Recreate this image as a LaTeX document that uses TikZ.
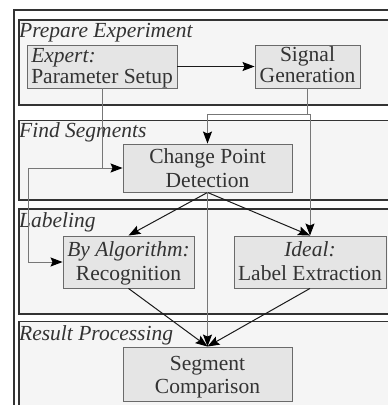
\documentclass[tikz,border=0pt]{standalone}
\usepackage{fontspec}
\setmainfont{LiberationSerif}[Extension=.ttf, UprightFont=*-Regular, ItalicFont=*-Italic, BoldFont=*-Bold, BoldItalicFont=*-BoldItalic]
\usetikzlibrary{arrows.meta,calc}
\definecolor{stagefill}{HTML}{F5F5F5}
\definecolor{stageline}{HTML}{333333}
\definecolor{boxfill}{HTML}{E5E5E5}
\definecolor{boxline}{HTML}{6A6A6A}
\definecolor{txt}{HTML}{333333}
\definecolor{grayline}{HTML}{777777}
\definecolor{blackline}{HTML}{1A1A1A}
\newcommand\bxt[4]{\raisebox{#1pt}[0pt][0pt]{\rmfamily\fontsize{21.5}{#2}\selectfont\begin{tabular}[t]{@{}#3@{}}#4\end{tabular}}}
\tikzset{
  stagebox/.style={draw=stageline, fill=stagefill, line width=1.1pt},
  stagelbl/.style={anchor=base west, inner sep=0pt, text=txt, font=\rmfamily\fontsize{21.5}{22}\selectfont\itshape},
  procbox/.style={draw=boxline, fill=boxfill, line width=0.9pt, inner sep=0pt, text=txt},
  tipk/.style={-{Stealth[length=12pt,width=9pt,inset=2pt,color=black]}},
  gr/.style={draw=grayline, line width=1pt},
  bk/.style={draw=blackline, line width=1pt},
}
\begin{document}
\begin{tikzpicture}[x=1pt,y=-1pt]
\useasboundingbox (0,0) rectangle (388,405);
\clip (0,0) rectangle (388,405);
\fill[white] (0,0) rectangle (388,405);
% outer frame
\draw[stageline, line width=1.1pt] (14,10) rectangle (420,440);
% stages
\draw[stagebox] (19,20) rectangle (420,105);
\draw[stagebox] (19,120.5) rectangle (420,200);
\draw[stagebox] (19,209) rectangle (420,314);
\draw[stagebox] (19,321.5) rectangle (420,440);
\node[stagelbl] (l1) at (19,37.7) {Prepare Experiment};
\node[stagelbl] (l2) at (19,137.7) {Find Segments};
\node[stagelbl] (l3) at (19,227.7) {Labeling};
\node[stagelbl] (l4) at (19,340.7) {Result Processing};
% process boxes
\node[procbox, minimum width=150pt, minimum height=43pt] (ps) at (102,66.5)
  {\bxt{4.5}{21.5}{l}{\itshape Expert:\\Parameter Setup}};
\node[procbox, minimum width=105pt, minimum height=43pt] (sg) at (307.5,66.5)
  {\bxt{5.5}{21.5}{c}{Signal\\Generation}};
\node[procbox, minimum width=169pt, minimum height=48pt] (cpd) at (207.5,168)
  {\bxt{4.7}{24}{c}{Change Point\\Detection}};
\node[procbox, minimum width=131pt, minimum height=52pt] (rec) at (128.5,262)
  {\bxt{5.3}{23.3}{c}{\itshape By Algorithm:\\Recognition}};
\node[procbox, minimum width=152pt, minimum height=52pt] (ide) at (310,262)
  {\bxt{5.3}{23.3}{c}{\itshape Ideal:\\Label Extraction}};
\node[procbox, minimum width=169pt, minimum height=54pt] (sc) at (207.5,374)
  {\bxt{4}{23.3}{c}{Segment\\Comparison}};
% connectors
\coordinate (j) at (307.5,114);
\coordinate (lb) at (28,168);
\draw[bk, tipk] (ps.east) -- (sg.west);
\draw[gr, tipk] (ps.south) |- (cpd.west);
\draw[gr, tipk] (ps.south |- cpd.west) -- (lb) |- (rec.west);
\draw[gr, tipk] (sg.south) -- (j) -| (cpd.north);
\draw[gr, tipk] (j) -| (ide.north);
\draw[bk, tipk] (cpd.south) -- (rec.north);
\draw[bk, tipk] (cpd.south) -- (ide.north);
\draw[gr, tipk] (cpd.south) -- (sc.north);
\draw[bk, tipk] (rec.south) -- (sc.north);
\draw[bk, tipk] (ide.south) -- (sc.north);
\end{tikzpicture}
\end{document}
